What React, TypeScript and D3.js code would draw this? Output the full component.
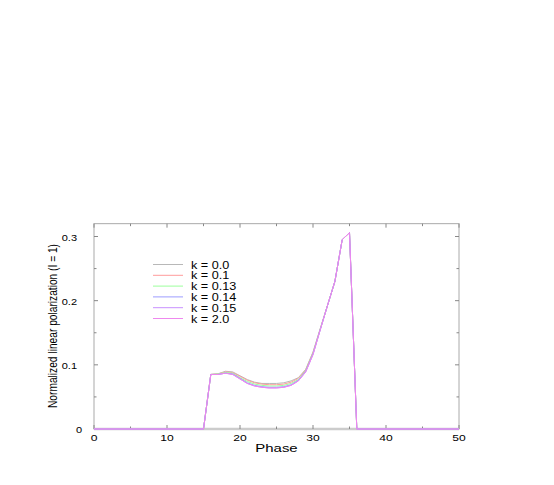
import React, { useEffect, useRef } from "react";
import { select, scaleLinear, line, range } from "d3";

const phase = [0, 15, 16, 17, 18, 19, 20, 21, 22, 23, 24, 25, 26, 27, 28, 29, 30, 31, 32, 33, 34, 35, 36, 50];
const k00 = [0, 0, 0.085, 0.086, 0.09, 0.089, 0.083, 0.077, 0.073, 0.071, 0.071, 0.071, 0.072, 0.075, 0.08, 0.093, 0.12, 0.157, 0.193, 0.23, 0.295, 0.306, 0, 0];
const k01 = [0, 0, 0.085, 0.086, 0.089, 0.088, 0.082, 0.076, 0.072, 0.07, 0.069, 0.069, 0.07, 0.073, 0.079, 0.092, 0.119, 0.156, 0.193, 0.23, 0.295, 0.306, 0, 0];
const k013 = [0, 0, 0.085, 0.086, 0.088, 0.087, 0.08, 0.074, 0.07, 0.068, 0.067, 0.067, 0.068, 0.071, 0.077, 0.091, 0.118, 0.156, 0.193, 0.23, 0.295, 0.306, 0, 0];
const k014 = [0, 0, 0.085, 0.085, 0.087, 0.086, 0.079, 0.072, 0.068, 0.066, 0.065, 0.065, 0.066, 0.069, 0.076, 0.09, 0.117, 0.155, 0.193, 0.23, 0.295, 0.306, 0, 0];
const k015 = [0, 0, 0.085, 0.085, 0.087, 0.085, 0.078, 0.071, 0.067, 0.065, 0.064, 0.064, 0.065, 0.068, 0.075, 0.089, 0.116, 0.155, 0.193, 0.23, 0.295, 0.306, 0, 0];
const k20 = [0, 0, 0.085, 0.085, 0.087, 0.085, 0.078, 0.071, 0.067, 0.065, 0.064, 0.064, 0.065, 0.068, 0.075, 0.089, 0.116, 0.155, 0.193, 0.23, 0.295, 0.306, 0, 0];

const labels = ["k = 0.0", "k = 0.1", "k = 0.13", "k = 0.14", "k = 0.15", "k = 2.0"];
const colors = ["#b8b8b8", "#ff9c9c", "#9cff9c", "#9c9cff", "#c890ff", "#ee88ee"];
const xTicks = [0, 10, 20, 30, 40, 50];
const yTicks = [0, 0.1, 0.2, 0.3];

export default function App() {
  const svgRef = useRef<SVGSVGElement>(null);

  useEffect(() => {
    const svg = select(svgRef.current);
    svg.selectAll("*").remove();
    const series = [k00, k01, k013, k014, k015, k20];

    const x = scaleLinear().domain([0, 50]).range([94, 459]);
    const y = scaleLinear().domain([0, 0.3]).range([429, 236.5]);
    const top = y(0.32);

    // frame
    svg.append("rect")
      .attr("x", x(0)).attr("y", top)
      .attr("width", x(50) - x(0)).attr("height", y(0) - top)
      .attr("fill", "none").attr("stroke", "#aaa").attr("stroke-width", 1);
    svg.append("line")
      .attr("x1", x(0)).attr("x2", x(50)).attr("y1", y(0)).attr("y2", y(0))
      .attr("stroke", "#ccc").attr("stroke-width", 2.5);

    // ticks, inward on all sides
    range(0, 51, 5).forEach((t) => {
      const len = t % 10 === 0 ? 4 : 2.5;
      svg.append("line").attr("x1", x(t)).attr("x2", x(t)).attr("y1", y(0)).attr("y2", y(0) - len).attr("stroke", "#888");
      svg.append("line").attr("x1", x(t)).attr("x2", x(t)).attr("y1", top).attr("y2", top + len).attr("stroke", "#888");
    });
    range(0, 0.31, 0.05).forEach((t) => {
      const len = Math.round(t * 100) % 10 === 0 ? 4 : 2.5;
      svg.append("line").attr("x1", x(0)).attr("x2", x(0) + len).attr("y1", y(t)).attr("y2", y(t)).attr("stroke", "#888");
      svg.append("line").attr("x1", x(50)).attr("x2", x(50) - len).attr("y1", y(t)).attr("y2", y(t)).attr("stroke", "#888");
    });

    const font = "Liberation Sans, Arial, Helvetica, sans-serif";

    svg.append("g").selectAll("text").data(xTicks).join("text")
      .attr("transform", (d) => `translate(${x(d)},441) scale(1.15,0.9)`)
      .attr("text-anchor", "middle")
      .attr("font-family", font).attr("font-size", 10.5)
      .text((d) => d);

    svg.append("g").selectAll("text").data(yTicks).join("text")
      .attr("transform", (d) => `translate(${d === 0 ? 82 : 77},${y(d) + 4}) scale(1.1,0.9)`)
      .attr("text-anchor", "end")
      .attr("font-family", font).attr("font-size", 10)
      .text((d) => (d === 0 ? "0" : d.toFixed(1)));

    svg.append("text")
      .attr("transform", "translate(57,326) rotate(-90)")
      .attr("text-anchor", "middle")
      .attr("font-family", font).attr("font-size", 12)
      .attr("textLength", 164).attr("lengthAdjust", "spacingAndGlyphs")
      .text("Normalized linear polarization (I = 1)");

    svg.append("text")
      .attr("transform", "translate(276.5,452) scale(1.15,0.9)")
      .attr("text-anchor", "middle")
      .attr("font-family", font).attr("font-size", 13)
      .text("Phase");

    const gen = line<number>()
      .x((_, i) => x(phase[i]))
      .y((d) => y(d));

    series.forEach((s, i) => {
      svg.append("path")
        .attr("d", gen(s))
        .attr("fill", "none")
        .attr("stroke", colors[i])
        .attr("stroke-width", 1)
        .attr("stroke-linejoin", "round");
    });

    // legend
    const leg = svg.append("g");
    labels.forEach((lab, i) => {
      const ly = 264.5 + i * 10.8;
      leg.append("line").attr("x1", 153).attr("x2", 183).attr("y1", ly).attr("y2", ly)
        .attr("stroke", colors[i]).attr("stroke-width", 1);
      leg.append("text")
        .attr("transform", `translate(191,${ly + 4}) scale(1.15,0.95)`)
        .attr("font-family", font).attr("font-size", 11)
        .text(lab);
    });
  }, []);

  return (
    <svg
      ref={svgRef}
      width={554}
      height={485}
      style={{ position: "absolute", left: 0, top: 0, background: "#fff" }}
    />
  );
}
